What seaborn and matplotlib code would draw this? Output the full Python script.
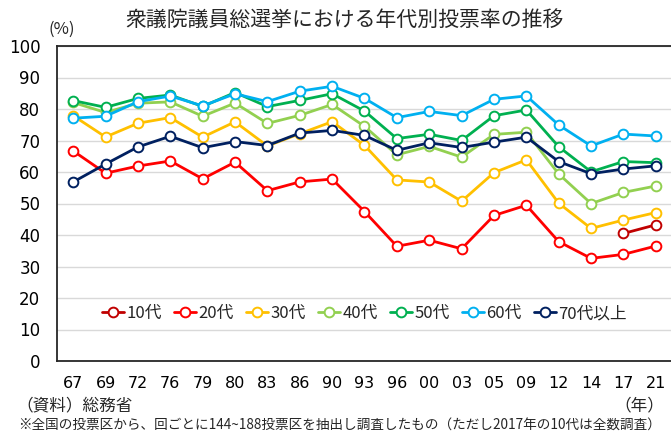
import matplotlib
matplotlib.use("Agg")
import matplotlib.pyplot as plt
from matplotlib.lines import Line2D
import seaborn as sns
import pandas as pd
import numpy as np

years = ["67", "69", "72", "76", "79", "80", "83", "86", "90", "93",
         "96", "00", "03", "05", "09", "12", "14", "17", "21"]
nan = np.nan
teens = [nan]*17 + [40.49, 43.23]
twenties = [66.69, 59.61, 61.89, 63.50, 57.83, 63.13, 54.07, 56.86, 57.76, 47.46,
            36.42, 38.35, 35.62, 46.20, 49.45, 37.89, 32.58, 33.85, 36.50]
thirties = [77.88, 71.11, 75.48, 77.27, 71.06, 75.92, 68.27, 72.15, 75.97, 68.46,
            57.49, 56.82, 50.72, 59.79, 63.87, 50.10, 42.09, 44.75, 47.12]
forties = [82.07, 78.89, 81.84, 82.26, 77.70, 81.88, 75.43, 77.99, 81.44, 74.48,
           65.46, 68.13, 64.72, 71.94, 72.63, 59.38, 49.98, 53.52, 55.56]
fifties = [82.68, 80.52, 83.35, 84.44, 80.82, 85.23, 80.77, 82.74, 84.85, 79.34,
           70.61, 71.98, 70.01, 77.86, 79.69, 68.02, 60.07, 63.32, 62.96]
sixties = [77.08, 77.70, 82.32, 84.13, 80.98, 84.84, 82.34, 85.66, 87.21, 83.38,
           77.25, 79.23, 77.89, 83.08, 84.15, 74.93, 68.28, 72.04, 71.43]
seventies = [56.83, 62.52, 67.95, 71.35, 67.71, 69.66, 68.41, 72.36, 73.21, 71.61,
             66.88, 69.28, 67.78, 69.48, 71.06, 63.30, 59.46, 60.94, 61.96]

groups = ["10代", "20代", "30代", "40代", "50代", "60代", "70代以上"]
series = [teens, twenties, thirties, forties, fifties, sixties, seventies]
colors = ["#C00000", "#FF0000", "#FFC000", "#92D050", "#00B050", "#00B0F0", "#002060"]

rows = []
for g, vals in zip(groups, series):
    for i, v in enumerate(vals):
        if not np.isnan(v):
            rows.append({"pos": i, "value": v, "group": g})
df = pd.DataFrame(rows)

sns.set_theme(style="white")
plt.rcParams["font.family"] = ["Noto Sans CJK JP", "DejaVu Sans"]

fig = plt.figure(figsize=(6.71, 4.34), dpi=100)
ax = fig.add_axes([57/671, (434-361)/434, (672-57)/671, 315/434])

for g, c in zip(groups, colors):
    sub = df[df["group"] == g]
    sns.lineplot(data=sub, x="pos", y="value", color=c, ax=ax, marker="o",
                 markersize=7, markerfacecolor="white", markeredgecolor=c,
                 markeredgewidth=1.4, linewidth=2, legend=False, sort=True,
                 errorbar=None, zorder=3)

ax.set_xlim(-0.5, len(years) - 0.5)
ax.set_ylim(0, 100)
ax.set_yticks(range(0, 101, 10))
ax.set_xticks(range(len(years)))
ax.set_xticklabels(years)
ax.set_xlabel("")
ax.set_ylabel("")
ax.yaxis.grid(True, color="#D9D9D9", linewidth=1)
ax.set_axisbelow(True)
ax.tick_params(axis="both", length=0, labelsize=12, colors="#000000")
ax.tick_params(axis="x", labelsize=11.5, pad=11)
ax.tick_params(axis="y", pad=12)
for lab in ax.get_xticklabels() + ax.get_yticklabels():
    lab.set_family("DejaVu Sans")
for s in ["left", "bottom", "top"]:
    ax.spines[s].set_visible(True)
    ax.spines[s].set_color("#262626")
    ax.spines[s].set_linewidth(1.3)
ax.spines["right"].set_visible(False)

handles = [Line2D([0], [0], color=c, linewidth=2, marker="o", markersize=7,
                  markerfacecolor="white", markeredgecolor=c, markeredgewidth=1.4)
           for c in colors]
ax.legend(handles, groups, loc="center", bbox_to_anchor=(0.5, 15/100),
          bbox_transform=ax.transAxes, ncol=7, frameon=False, fontsize=12,
          handlelength=1.3, handletextpad=0.15, columnspacing=0.75)

fig.text(344/671, 1 - 20/434, "衆議院議員総選挙における年代別投票率の推移",
         ha="center", va="center", fontsize=15)
fig.text(62/671, 1 - 29/434, "(%)", ha="center", va="center", fontsize=12)
fig.text(16/671, 1 - 406/434, "（資料）総務省", ha="left", va="center", fontsize=12)
fig.text(664/671, 1 - 406/434, "（年）", ha="right", va="center", fontsize=12)
fig.text(18/671, 1 - 425/434,
         "※全国の投票区から、回ごとに144~188投票区を抽出し調査したもの（ただし2017年の10代は全数調査）",
         ha="left", va="center", fontsize=9.8)

fig.savefig("out.png", dpi=100)
